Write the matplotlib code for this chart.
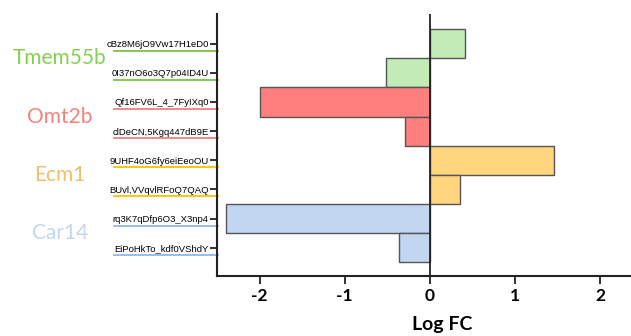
import matplotlib
matplotlib.use("Agg")
import matplotlib.pyplot as plt
import matplotlib.transforms as mtransforms

labels = ["cBz8M6jO9Vw17H1eD0", "0I37nO6o3Q7p04ID4U", "Qf16FV6L_4_7FyIXq0",
          "clDeCN,5Kgq447dB9E", "9UHF4oG6fy6eiEeoOU", "BUvl,VVqvlRFoQ7QAQ",
          "rq3K7qDfp6O3_X3np4", "EiPoHkTo_kdf0VShdY"]
values = [0.41, -0.52, -2.0, -0.29, 1.46, 0.36, -2.40, -0.36]
groups = ["Tmem55b", "Tmem55b", "Omt2b", "Omt2b", "Ecm1", "Ecm1", "Car14", "Car14"]
group_names = ["Tmem55b", "Omt2b", "Ecm1", "Car14"]
bar_colors = {"Tmem55b": "#c2ebb5", "Omt2b": "#ff7f7f", "Ecm1": "#ffd57e", "Car14": "#c2d6f2"}
line_colors = {"Tmem55b": "#7dc242", "Omt2b": "#f08080", "Ecm1": "#ffc000", "Car14": "#8db8ea"}
text_colors = {"Tmem55b": "#86cf50", "Omt2b": "#f4827c", "Ecm1": "#ebc06a", "Car14": "#c3d5f1"}
xticks = [-2, -1, 0, 1, 2]

fig = plt.figure(figsize=(6.31, 3.36), dpi=100)
ax = fig.add_axes([0.344, 0.1786, 0.656, 0.7798])

ypos = list(range(len(labels)))
ax.barh(ypos, values, height=1.0,
        color=[bar_colors[g] for g in groups],
        edgecolor="#555555", linewidth=1.0, zorder=2)
ax.axvline(0, color="#222222", linewidth=1.3, zorder=3)

ax.set_xlim(-2.5, 2.364)
ax.set_ylim(7.97, -1.02)
ax.set_yticks(ypos)
ax.set_yticklabels(labels, fontsize=6.8, family="Liberation Sans")
ax.set_xticks(xticks)
ax.set_xticklabels([str(t) for t in xticks], fontsize=12.5, fontweight="bold", family="Lato")
ax.tick_params(axis="y", length=5, width=1.3, pad=1, color="#222222")
ax.tick_params(axis="x", length=6, width=1.3, pad=3, color="#222222")
for s in ["top", "right"]:
    ax.spines[s].set_visible(False)
for s in ["left", "bottom"]:
    ax.spines[s].set_linewidth(1.5)
    ax.spines[s].set_color("#222222")

# colored underlines below tick labels
trans = mtransforms.blended_transform_factory(fig.transFigure, ax.transData)
for i, g in enumerate(groups):
    ax.plot([114 / 631, 218 / 631], [i + 0.24, i + 0.24], transform=trans,
            color=line_colors[g], linewidth=1.3, clip_on=False)

# group labels
for k, g in enumerate(group_names):
    ax.text(60 / 631, 2 * k + 0.5, g, transform=trans, ha="center", va="center",
            fontsize=15, color=text_colors[g], family="Lato")

fig.text(442 / 631, 0.06, "Log FC", ha="center", va="top", fontsize=14,
         fontweight="bold", family="Lato")

fig.savefig("out.png", dpi=100)
